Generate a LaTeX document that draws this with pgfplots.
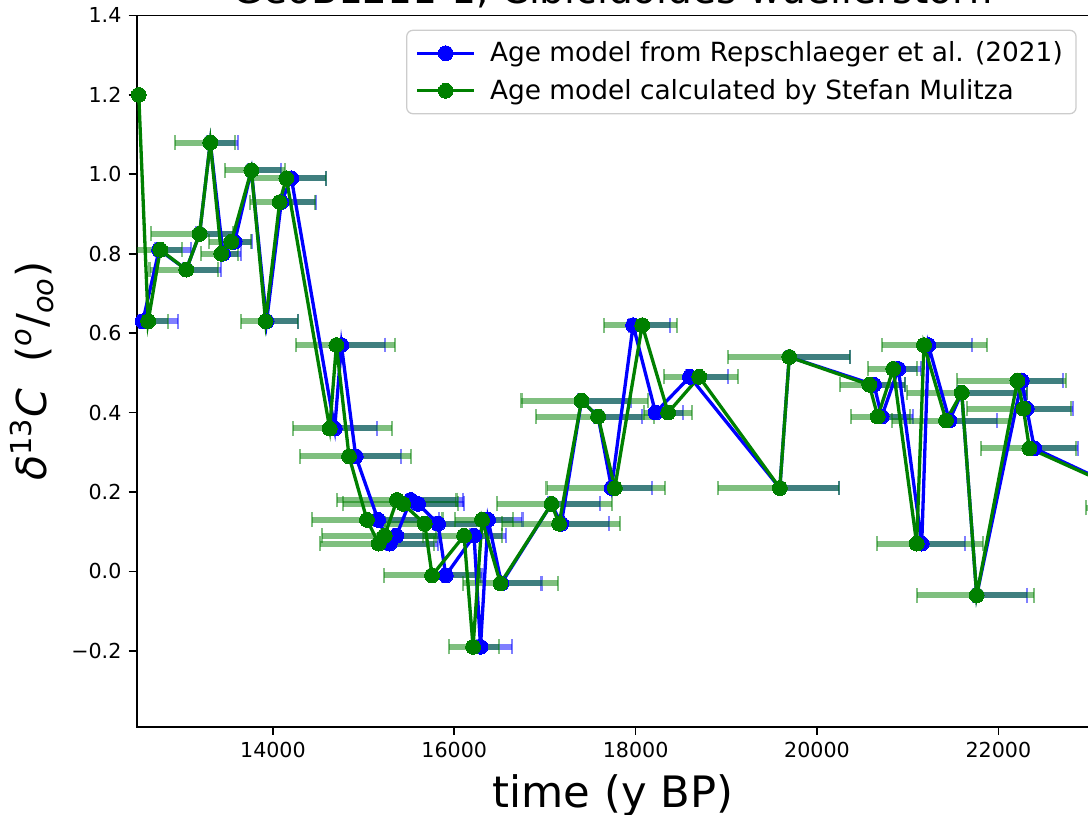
\documentclass[border=0pt]{standalone}
\usepackage{fontspec}
\setmainfont{DejaVu Sans}
\usepackage{pgfplots}
\pgfplotsset{compat=1.18}
\usepackage{pgfplotstable}
\definecolor{mplblue}{RGB}{0,0,255}
\definecolor{mplgreen}{RGB}{0,128,0}

% Age model from Repschlaeger et al. (2021): x y  err-minus err-plus
\pgfplotstableread{
x y em ep
12565 0.63 40 387
12745 0.81 40 355
13044 0.76 40 387
13191 0.85 40 389
13309 1.08 40 305
13450 0.80 40 201
13577 0.83 40 190
13762 1.01 40 330
13930 0.63 40 346
14092 0.93 40 387
14203 0.99 40 386
14681 0.36 40 471
14755 0.57 40 478
14913 0.29 40 504
15159 0.13 40 673
15288 0.07 40 533
15361 0.09 40 478
15519 0.18 40 578
15600 0.17 40 510
15821 0.12 40 530
15906 -0.01 40 394
16218 0.09 40 357
16289 -0.19 40 352
16372 0.13 40 380
16520 -0.03 40 442
17072 0.17 40 533
17180 0.12 40 528
17403 0.43 40 547
17586 0.39 40 486
17734 0.21 40 448
17972 0.62 40 405
18219 0.40 40 305
18598 0.49 40 423
19590 0.21 40 655
19694 0.54 40 670
20629 0.47 40 339
20713 0.39 40 349
20897 0.51 40 253
21155 0.07 40 478
21228 0.57 40 478
21460 0.38 40 523
21596 0.45 40 717
21761 -0.06 40 559
22258 0.48 40 452
22313 0.41 40 515
22397 0.31 40 486
23800 0.16 40 500
}\bluedata

% Age model calculated by Stefan Mulitza
\pgfplotstableread{
x y em ep
12520 1.20 0 0
12624 0.63 350 218
12757 0.81 263 243
13044 0.76 405 346
13191 0.85 533 364
13309 1.08 386 272
13431 0.80 221 183
13541 0.83 241 215
13762 1.01 295 367
13919 0.63 268 353
14074 0.93 331 386
14148 0.99 369 441
14626 0.36 405 687
14700 0.57 449 651
14839 0.29 537 680
15037 0.13 602 833
15166 0.07 651 614
15232 0.09 687 568
15368 0.18 661 656
15435 0.17 662 605
15674 0.12 444 626
15755 -0.01 534 526
16108 0.09 458 422
16207 -0.19 265 287
16306 0.13 300 342
16509 -0.03 412 636
17072 0.17 596 662
17156 0.12 625 670
17403 0.43 662 735
17586 0.39 687 615
17770 0.21 753 552
18072 0.62 423 386
18358 0.40 264 259
18701 0.49 386 430
19590 0.21 680 655
19694 0.54 673 670
20577 0.47 324 391
20670 0.39 296 360
20841 0.51 275 259
21099 0.07 434 729
21180 0.57 467 699
21423 0.38 599 743
21596 0.45 607 717
21761 -0.06 655 633
22210 0.48 669 540
22276 0.41 625 530
22342 0.31 536 513
23800 0.16 831 500
}\greendata

\begin{document}
\begin{tikzpicture}
\useasboundingbox (-66.4pt,-42.8pt) rectangle (461.2pt,352.4pt);
\clip (-66.4pt,-42.8pt) rectangle (461.2pt,352.4pt);
\begin{axis}[
  at={(0pt,0pt)}, anchor=south west,
  scale only axis,
  width=461.7pt, height=344.9pt,
  xmin=12500, xmax=23000,
  ymin=-0.391, ymax=1.4,
  scaled x ticks=false, scaled y ticks=false,
  axis line style={black, line width=0.9pt},
  tick align=outside,
  xtick pos=bottom, ytick pos=left,
  major tick length=4pt,
  every tick/.style={black, line width=0.8pt},
  xtick={14000,16000,18000,20000,22000},
  xticklabels={\mbox{14000},\mbox{16000},\mbox{18000},\mbox{20000},\mbox{22000}},
  ytick={-0.2,0,0.2,0.4,0.6,0.8,1.0,1.2,1.4},
  yticklabels={\mbox{−0.2},\mbox{0.0},\mbox{0.2},\mbox{0.4},\mbox{0.6},\mbox{0.8},\mbox{1.0},\mbox{1.2},\mbox{1.4}},
  ticklabel style={font=\fontsize{10}{12}\selectfont},
  title={GeoB1211-1, Cibicidoides wuellerstorfi},
  every axis title/.style={at={(axis description cs:0.5,1)}, anchor=base, yshift=5.8pt, font=\fontsize{19}{22}\selectfont},
  xlabel={time (y BP)},
  xlabel style={font=\fontsize{21}{25}\selectfont, at={(axis description cs:0.5,-0.1143)}, anchor=base},
  ylabel={{\itshape δ}\textsuperscript{13}{\itshape C} \ (\textsuperscript{\itshape o}/\textsubscript{\itshape oo})},
  ylabel style={font=\fontsize{20}{24}\selectfont, at={(axis description cs:-0.0945,0.5)}, anchor=base},
  legend style={at={(axis description cs:0.987,0.980)}, anchor=north east,
    draw=black!20, line width=0.6pt, rounded corners=3pt, fill=white,
    font=\fontsize{12.8}{15}\selectfont, row sep=3pt,
    /tikz/every odd column/.append style={column sep=5pt},
    inner xsep=4.4pt, inner ysep=3.5pt},
  legend cell align=left,
]
% error bars: blue then green
\addplot[forget plot, only marks, mark=none, color=mplblue,
  error bars/.cd, x dir=both, x explicit, error mark=|,
  error bar style={line width=2.9pt, color=mplblue, opacity=0.5},
  error mark options={line width=1pt, mark size=3.6pt, color=mplblue, opacity=0.5}]
  table[x=x, y=y, x error minus=em, x error plus=ep]{\bluedata};
\addplot[forget plot, only marks, mark=none, color=mplgreen,
  error bars/.cd, x dir=both, x explicit, error mark=|,
  error bar style={line width=2.9pt, color=mplgreen, opacity=0.5},
  error mark options={line width=1pt, mark size=3.6pt, color=mplgreen, opacity=0.5}]
  table[x=x, y=y, x error minus=em, x error plus=ep]{\greendata};
% lines
\addplot[color=mplblue, line width=1.6pt, mark=*, mark size=3.6pt,
  mark options={solid, fill=mplblue, draw=mplblue, line width=0pt},
  legend image code/.code={
    \draw[mark repeat=2,mark phase=2] plot coordinates {(0pt,0pt) (13.7pt,0pt) (27.4pt,0pt)};
  }]
  table[x=x, y=y]{\bluedata};
\addlegendentry{Age model from Repschlaeger et al. (2021)}
\addplot[color=mplgreen, line width=1.6pt, mark=*, mark size=3.6pt,
  mark options={solid, fill=mplgreen, draw=mplgreen, line width=0pt},
  legend image code/.code={
    \draw[mark repeat=2,mark phase=2] plot coordinates {(0pt,0pt) (13.7pt,0pt) (27.4pt,0pt)};
  }]
  table[x=x, y=y]{\greendata};
\addlegendentry{Age model calculated by Stefan Mulitza}
\end{axis}
\end{tikzpicture}
\end{document}
